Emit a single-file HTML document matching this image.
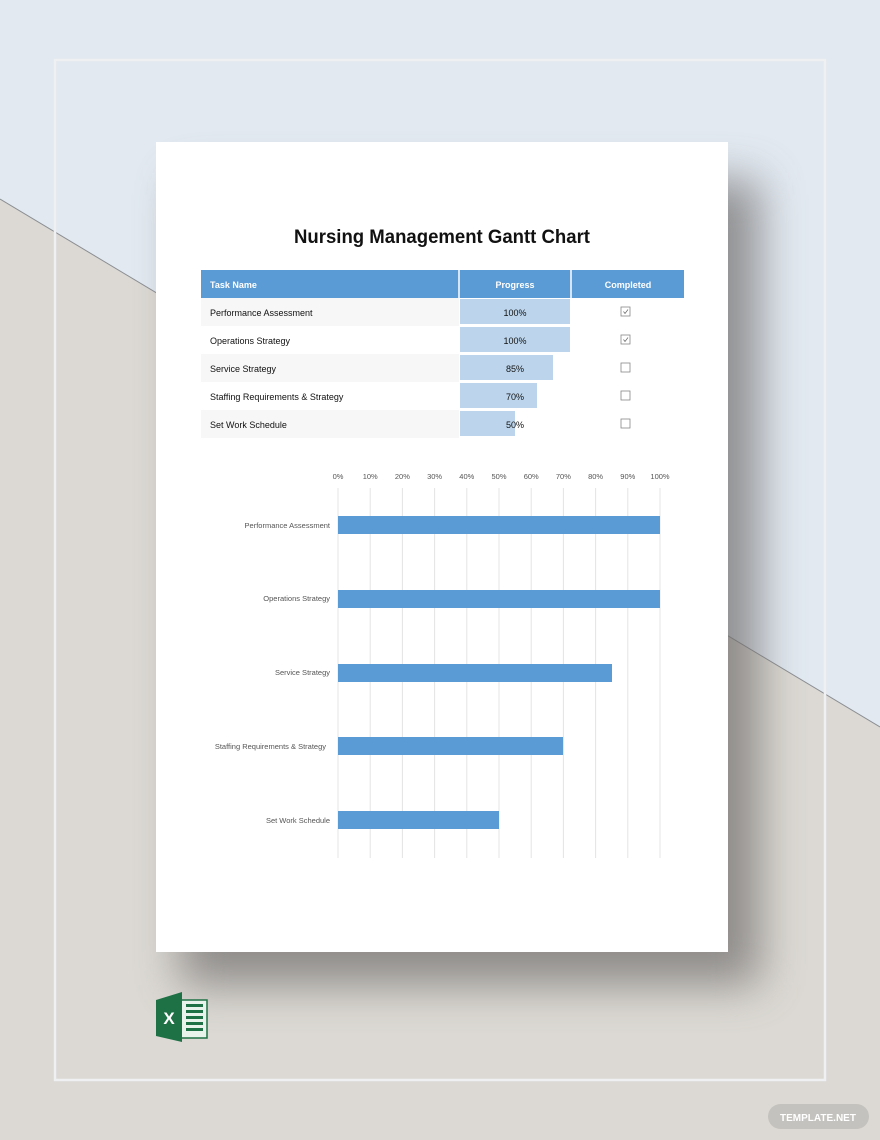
<!DOCTYPE html>
<html><head><meta charset="utf-8"><style>
html,body{margin:0;padding:0;}
body{width:880px;height:1140px;position:relative;overflow:hidden;font-family:"Liberation Sans",sans-serif;}
</style></head><body>
<svg width="880" height="1140" viewBox="0 0 880 1140" xmlns="http://www.w3.org/2000/svg" style="position:absolute;left:0;top:0">
<defs>
<filter id="sh" x="-30%" y="-30%" width="160%" height="160%"><feGaussianBlur stdDeviation="22"/></filter>
</defs>
<rect width="880" height="1140" fill="#dcd9d4"/>
<polygon points="0,0 880,0 880,727 0,199" fill="#e2e9f1"/>
<line x1="0" y1="199" x2="880" y2="727" stroke="#8a8e93" stroke-width="1"/>
<rect x="55" y="60" width="770" height="1020" fill="none" stroke="#eef0f2" stroke-width="2.5"/>
<rect x="180" y="180" width="580" height="805" fill="#6e6c6a" opacity="0.7" filter="url(#sh)"/>
<rect x="156" y="142" width="572" height="810" fill="#ffffff"/>
<text x="442" y="243" text-anchor="middle" font-size="19" font-weight="bold" fill="#111" textLength="296" lengthAdjust="spacingAndGlyphs">Nursing Management Gantt Chart</text>
<!-- table -->
<rect x="201" y="270" width="483" height="28" fill="#5b9bd5"/>
<line x1="459" y1="270" x2="459" y2="298" stroke="#fff" stroke-width="1.5"/>
<line x1="571" y1="270" x2="571" y2="298" stroke="#fff" stroke-width="1.5"/>
<g font-size="9" font-weight="bold" fill="#fff">
<text x="210" y="288">Task Name</text>
<text x="515" y="288" text-anchor="middle">Progress</text>
<text x="628" y="288" text-anchor="middle">Completed</text>
</g>
<rect x="201" y="298" width="258" height="28" fill="#f7f7f7"/>
<rect x="201" y="354" width="258" height="28" fill="#f7f7f7"/>
<rect x="201" y="410" width="258" height="28" fill="#f7f7f7"/>
<g fill="#bcd5ec">
<rect x="460" y="299" width="110" height="25"/>
<rect x="460" y="327" width="110" height="25"/>
<rect x="460" y="355" width="93" height="25"/>
<rect x="460" y="383" width="77" height="25"/>
<rect x="460" y="411" width="55" height="25"/>
</g>
<g font-size="9" fill="#111">
<text x="210" y="316">Performance Assessment</text>
<text x="210" y="344">Operations Strategy</text>
<text x="210" y="372">Service Strategy</text>
<text x="210" y="400">Staffing Requirements &amp; Strategy</text>
<text x="210" y="428">Set Work Schedule</text>
<g text-anchor="middle">
<text x="515" y="316">100%</text>
<text x="515" y="344">100%</text>
<text x="515" y="372">85%</text>
<text x="515" y="400">70%</text>
<text x="515" y="428">50%</text>
</g>
</g>
<g fill="#fff" stroke="#888" stroke-width="0.8">
<rect x="621" y="307" width="9" height="9"/>
<rect x="621" y="335" width="9" height="9"/>
<rect x="621" y="363" width="9" height="9"/>
<rect x="621" y="391" width="9" height="9"/>
<rect x="621" y="419" width="9" height="9"/>
</g>
<path d="M623.5 311.5 l1.5 2 l3-4 M623.5 339.5 l1.5 2 l3-4" stroke="#666" stroke-width="0.7" fill="none"/>
<!-- chart -->
<g stroke="#e4e4e4" stroke-width="1">
<line x1="338" y1="488" x2="338" y2="858"/><line x1="370.2" y1="488" x2="370.2" y2="858"/>
<line x1="402.4" y1="488" x2="402.4" y2="858"/><line x1="434.6" y1="488" x2="434.6" y2="858"/>
<line x1="466.8" y1="488" x2="466.8" y2="858"/><line x1="499" y1="488" x2="499" y2="858"/>
<line x1="531.2" y1="488" x2="531.2" y2="858"/><line x1="563.4" y1="488" x2="563.4" y2="858"/>
<line x1="595.6" y1="488" x2="595.6" y2="858"/><line x1="627.8" y1="488" x2="627.8" y2="858"/>
<line x1="660" y1="488" x2="660" y2="858"/>
</g>
<g font-size="7.5" fill="#555" text-anchor="middle">
<text x="338" y="479">0%</text><text x="370.2" y="479">10%</text><text x="402.4" y="479">20%</text>
<text x="434.6" y="479">30%</text><text x="466.8" y="479">40%</text><text x="499" y="479">50%</text>
<text x="531.2" y="479">60%</text><text x="563.4" y="479">70%</text><text x="595.6" y="479">80%</text>
<text x="627.8" y="479">90%</text><text x="660" y="479">100%</text>
</g>
<g fill="#5b9bd5">
<rect x="338" y="516" width="322" height="18"/>
<rect x="338" y="590" width="322" height="18"/>
<rect x="338" y="664" width="274" height="18"/>
<rect x="338" y="737" width="225" height="18"/>
<rect x="338" y="811" width="161" height="18"/>
</g>
<g font-size="7.5" fill="#555" text-anchor="end">
<text x="330" y="528">Performance Assessment</text>
<text x="330" y="601">Operations Strategy</text>
<text x="330" y="675">Service Strategy</text>
<text x="326" y="749">Staffing Requirements &amp; Strategy</text>
<text x="330" y="823">Set Work Schedule</text>
</g>
<!-- excel icon -->
<rect x="180" y="1000" width="27" height="38" fill="#e8f3ec" stroke="#1e7145" stroke-width="1.5"/>
<g fill="#1e7145"><rect x="186" y="1004" width="17" height="3"/><rect x="186" y="1010" width="17" height="3"/><rect x="186" y="1016" width="17" height="3"/><rect x="186" y="1022" width="17" height="3"/><rect x="186" y="1028" width="17" height="3"/></g>
<polygon points="156,1000 182,992 182,1042 156,1036" fill="#1e7145"/>
<text x="169" y="1024" text-anchor="middle" font-size="17" font-weight="bold" fill="#fff">X</text>
<rect x="768" y="1104" width="101" height="25" rx="12.5" fill="#c4c2be"/>
<text x="818" y="1121" text-anchor="middle" font-size="10" font-weight="bold" fill="#fff">TEMPLATE.NET</text>
</svg>
</body></html>
